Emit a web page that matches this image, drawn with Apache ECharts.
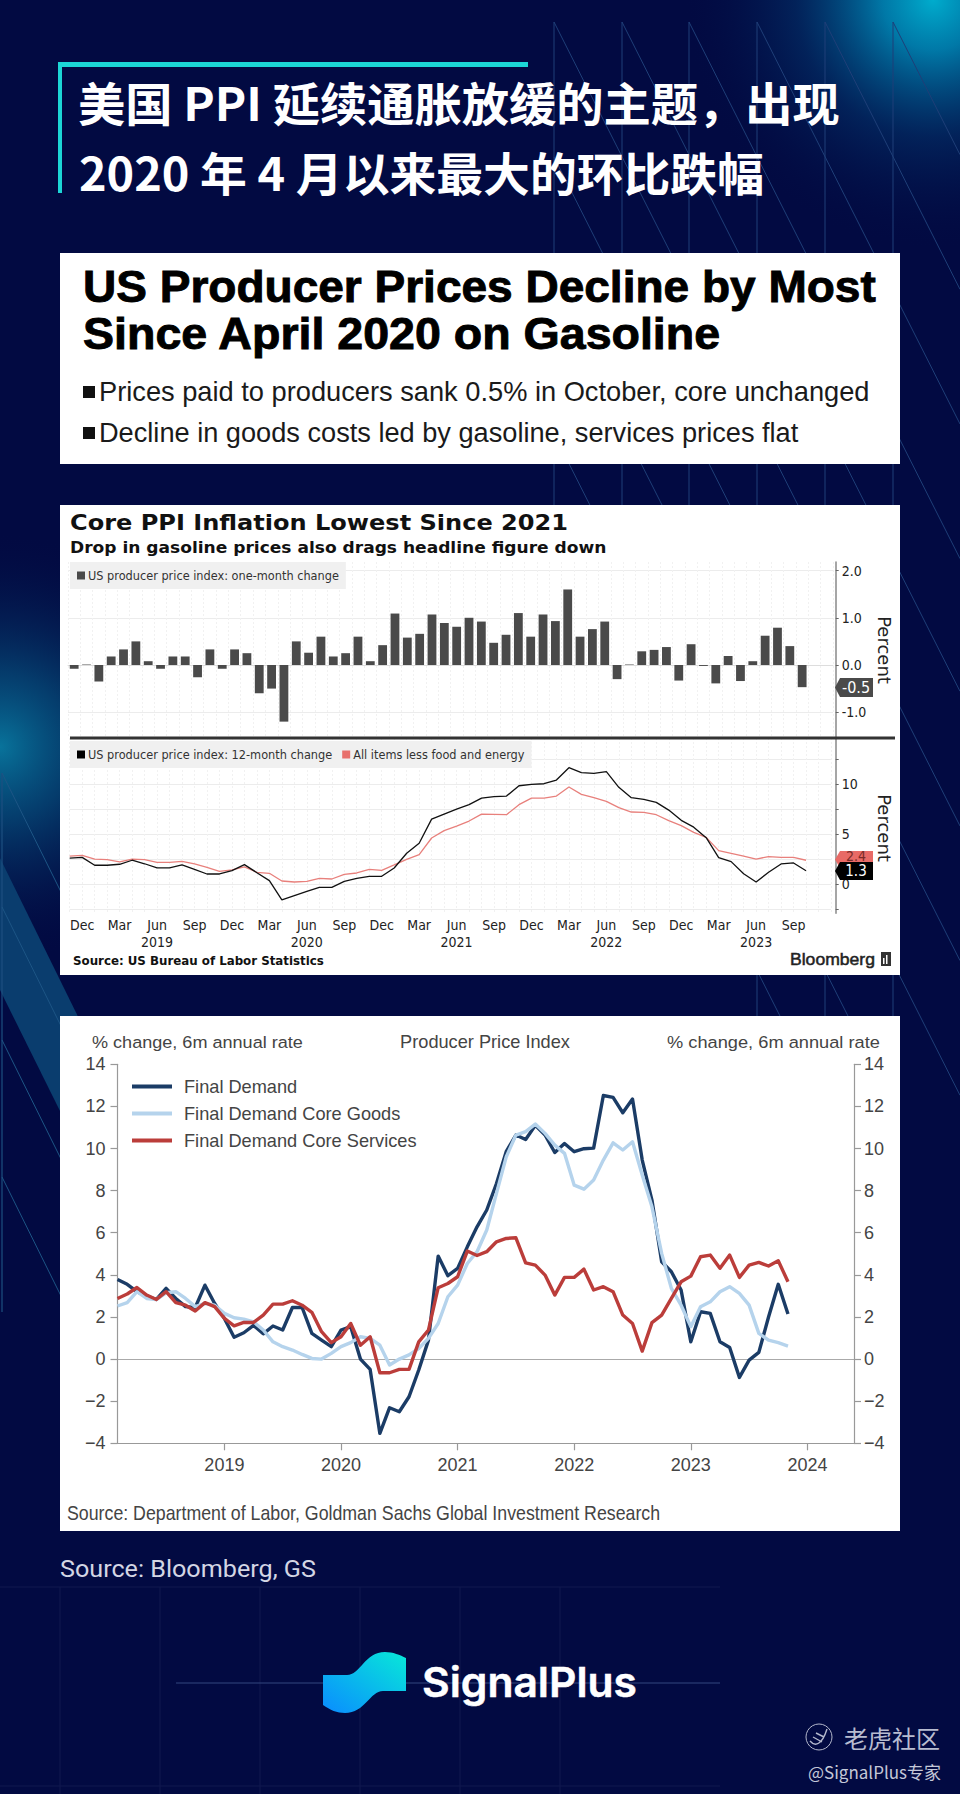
<!DOCTYPE html>
<html>
<head>
<meta charset="utf-8">
<style>html,body{margin:0;padding:0;background:#020a42}#c{width:960px;height:1794px}</style>
<script src="https://cdn.jsdelivr.net/npm/echarts@6/dist/echarts.min.js"></script>
</head>
<body>
<div id="c"></div>
<script>
// ---------- data ----------
var MONTHS = ['Jan','Feb','Mar','Apr','May','Jun','Jul','Aug','Sep','Oct','Nov','Dec'];
function monthRange(y, m, count) {
  var out = [];
  for (var i = 0; i < count; i++) { out.push(MONTHS[m] + ' ' + y); m++; if (m === 12) { m = 0; y++; } }
  return out;
}
var blbMonths = monthRange(2018, 10, 60).concat(['', '']);        // Nov 2018 .. Oct 2023, then empty room up to the axis
var gsMonths = monthRange(2018, 1, 77);                           // Feb 2018 .. Jun 2024

var oneMonthChange = [-0.08,0.01,-0.35,0.18,0.33,0.5,0.08,-0.08,0.18,0.18,-0.26,0.33,-0.08,0.33,0.25,-0.6,-0.5,-1.2,0.5,0.26,0.6,0.18,0.25,0.6,0.08,0.42,1.09,0.58,0.66,1.07,0.89,0.81,1.0,0.92,0.47,0.64,1.1,0.6,1.07,0.93,1.6,0.6,0.76,0.92,-0.3,0.01,0.29,0.32,0.38,-0.33,0.44,-0.02,-0.39,0.19,-0.34,0.08,0.62,0.79,0.4,-0.47];
var twelveMonthChange = [2.62,2.69,1.9,1.9,2.0,2.4,2.05,1.63,1.63,1.93,1.5,1.03,1.03,1.36,1.96,1.16,0.37,-1.56,-1.13,-0.7,-0.3,-0.3,0.3,0.6,0.8,0.8,1.63,3.1,4.1,6.5,7.0,7.5,7.94,8.6,8.74,8.8,9.83,9.97,10.03,10.4,11.63,11.13,11.06,11.23,9.67,8.64,8.47,8.17,7.4,6.38,5.7,4.65,2.66,2.26,1.06,0.23,1.2,2.03,2.13,1.36];
var lessFoodEnergy = [2.82,2.89,2.52,2.46,2.23,2.52,2.46,2.19,2.19,2.29,2.03,1.7,1.3,1.43,1.73,1.2,1.1,0.33,0.23,0.3,0.6,0.53,1.0,1.13,1.5,1.4,1.93,2.49,2.96,4.62,5.35,5.81,6.31,7.0,6.98,6.94,7.94,8.6,8.6,8.8,9.7,8.97,8.64,8.27,7.64,7.21,7.18,6.94,6.35,5.85,5.18,4.68,3.36,3.09,2.82,2.52,2.76,2.69,2.69,2.4];

var finalDemand = [3.78,3.55,3.2,3.0,2.83,3.36,2.88,2.49,2.45,3.51,2.64,1.93,1.04,1.25,1.6,1.2,1.57,1.38,2.45,2.45,1.22,0.9,0.59,1.38,1.54,0,-0.49,-3.53,-2.31,-2.5,-1.79,-0.52,0.9,4.89,3.96,4.31,5.33,6.28,7.08,8.34,9.85,10.64,10.43,11.1,10.64,9.81,10.24,9.85,9.99,10.02,12.52,12.43,11.7,12.35,9.45,7.55,4.62,4.15,3.28,0.82,2.25,2.17,0.82,0.55,-0.87,-0.05,0.32,2.0,3.55,2.14];
var coreGoods = [2.52,2.68,3.2,2.88,2.83,3.15,3.2,2.88,2.49,2.64,2.56,2.17,1.96,1.9,1.77,1.38,0.82,0.59,0.43,0.22,0.03,0,0.27,0.59,0.78,1.06,0.98,0.66,-0.28,0,0.2,0.5,0.98,1.69,2.96,3.51,4.54,5.1,6.13,7.87,9.6,10.64,10.8,11.16,10.72,10.16,9.77,8.26,8.07,8.5,9.45,10.27,9.93,10.32,8.74,7.23,5.02,3.36,2.56,1.54,2.49,2.72,3.2,3.44,3.12,2.56,1.22,0.9,0.78,0.62];
var coreServices = [2.88,3.09,3.4,3.04,2.83,3.2,2.68,2.56,2.28,2.68,2.49,1.93,1.58,1.74,1.74,2.09,2.61,2.61,2.77,2.56,2.22,1.3,0.78,1.06,1.69,0.66,1.06,-0.65,-0.65,-0.49,-0.49,0.82,1.38,3.39,3.59,3.91,5.13,4.92,5.1,5.57,5.73,5.76,4.57,4.46,3.99,3.04,3.88,3.88,4.27,3.28,3.44,3.2,2.09,1.69,0.38,1.73,2.09,2.88,3.67,3.94,4.86,4.94,4.31,4.94,3.88,4.46,4.59,4.42,4.67,3.67];

var barTicks = [-1, 0, 1, 2];
var lineLabels = [0, 5, 10];
var lineTicks = [-2.5, 0, 2.5, 5, 7.5, 10, 12.5];

// ---------- helpers ----------
var SANS = '"Liberation Sans"', DJ = '"DejaVu Sans"', DJC = '"DejaVu Sans Condensed","DejaVu Sans"', CJK = '"Noto Sans CJK SC"';
var meas = document.createElement('canvas').getContext('2d');
// text from left edge x0 to right edge x1, vertically centred on y
function span(str, x0, x1, y, font, fill, z, bolder) {
  meas.font = font;
  var w = meas.measureText(str).width;
  var st = { text:str, x:0, y:0, font:font, fill:fill, textAlign:'left', textVerticalAlign:'middle' };
  if (bolder) { st.stroke = fill; st.lineWidth = bolder; }
  return { type:'text', x:x0, y:y, scaleX:(x1 - x0) / w, z:z || 1, style:st };
}
function centred(str, x, y, font, fill, z, rot) {
  return { type:'text', x:x, y:y, rotation:rot || 0, z:z || 1,
    style:{ text:str, x:0, y:0, font:font, fill:fill, textAlign:'center', textVerticalAlign:'middle' } };
}
function rect(x, y, w, h, fill, z) { return { type:'rect', shape:{x:x,y:y,width:w,height:h}, style:{fill:fill}, z:z || 0 }; }
function seg(x1, y1, x2, y2, color, w, z) { return { type:'line', shape:{x1:x1,y1:y1,x2:x2,y2:y2}, style:{stroke:color,lineWidth:w||1}, z:z||0, silent:true }; }
function glow(cx, cy, r, stops) {
  return { type:'circle', shape:{cx:cx,cy:cy,r:r}, z:0, style:{ fill:{ type:'radial', x:0.5, y:0.5, r:0.5,
    colorStops: stops.map(function (s) { return { offset:s[0], color:s[1] }; }) } } };
}
function tag(x, y0, y1, fill, z) {
  var m = (y0 + y1) / 2;
  return { type:'polygon', z:z, shape:{ points:[[x+4,y0],[x+37,y0],[x+37,y1],[x+4,y1],[x-1,m]] }, style:{ fill:fill } };
}
echarts.graphic.registerShape('spLogo', echarts.graphic.extendPath('M323 1675 L347 1675 C360 1675 365 1652 385 1652 C393 1652 400 1655 406 1658 L406 1691 L383 1691 C370 1691 365 1713 345 1713 C337 1713 330 1710 323 1705 Z', {}));
echarts.graphic.registerShape('tigerMark', echarts.graphic.extendPath('M810 1741 C815 1747 822 1745 827 1729 M813 1737 L822 1742 M816 1733 L824 1737', {}));

// ---------- decoration ----------
var g = [];
g.push(glow(933, 0, 250, [[0,'rgba(0,172,205,1)'],[0.2,'rgba(0,140,185,0.85)'],[0.55,'rgba(3,70,125,0.4)'],[1,'rgba(2,10,66,0)']]));
g.push(glow(0, 747, 215, [[0,'rgba(8,115,155,1)'],[0.35,'rgba(6,80,125,0.7)'],[1,'rgba(2,10,66,0)']]));
var LINE = '#1f3f78';
[554,622,689,757,825,893].forEach(function (x) { g.push(seg(x, 22, x, x >= 757 ? 1018 : 520, LINE, 1)); });
[893,825,757,689,622,554].forEach(function (x) { g.push(seg(x, 22, 960, 22 + (960 - x) / 0.505, LINE, 1)); });
[[486,157],[418,291],[346,434],[278,568]].forEach(function (p) {
  var yEnd = p[0] === 346 || p[0] === 278 ? 1020 : 22 + (960 - p[0]) / 0.505;
  g.push(seg(554, p[1], p[0] + 0.505 * (yEnd - 22), yEnd, LINE, 1));
});
g.push({ type:'polygon', z:0, shape:{points:[[0,858],[120,1102],[120,1232],[0,990]]}, style:{fill:'#0a3d6e'} });
g.push(seg(2, 773, 2, 1312, '#1d4f80', 1.2));
[773,907,1040,1177].forEach(function (y) { g.push(seg(2, y, 62, y + 121, '#1d5585', 1)); });
[160,260,360,460,560,60].forEach(function (x) { g.push(seg(x, 1587, x, 1794, '#11194e', 1)); });
g.push(seg(0, 1587, 720, 1587, '#11194e', 1));
g.push(seg(0, 1786, 720, 1786, '#11194e', 1));
g.push(seg(176, 1683, 720, 1683, '#33467f', 1));

// title
g.push(rect(58, 62, 470, 5, '#1cd6d6', 1), rect(58, 62, 4, 131, '#1cd6d6', 1));
g.push(span('美国 PPI 延续通胀放缓的主题，出现', 78, 840, 101, 'bold 46px ' + CJK, '#ffffff', 2));
g.push(span('2020 年 4 月以来最大的环比跌幅', 79, 764, 171, 'bold 46px ' + CJK, '#ffffff', 2));

// panels
g.push(rect(60, 253, 840, 211, '#ffffff', 1), rect(60, 505, 840, 470, '#ffffff', 1), rect(60, 1016, 840, 515, '#ffffff', 1));

// headline panel
g.push(span('US Producer Prices Decline by Most', 83, 876, 287, 'bold 44px ' + SANS, '#000000', 2, 0.9));
g.push(span('Since April 2020 on Gasoline', 83, 722, 334, 'bold 44px ' + SANS, '#000000', 2, 0.9));
g.push(rect(83, 386, 12, 12, '#111111', 2), rect(83, 427, 12, 12, '#111111', 2));
g.push(span('Prices paid to producers sank 0.5% in October, core unchanged', 99, 870, 392, '27px ' + SANS, '#1a1a1a', 2));
g.push(span('Decline in goods costs led by gasoline, services prices flat', 99, 799, 433, '27px ' + SANS, '#1a1a1a', 2));

// Bloomberg panel
g.push(span('Core PPI Inflation Lowest Since 2021', 70, 568, 523, 'bold 21px ' + DJ, '#111111', 2));
g.push(span('Drop in gasoline prices also drags headline figure down', 70, 607, 548, 'bold 15px ' + DJ, '#111111', 2));
g.push(centred('Percent', 884, 650, '18px ' + DJ, '#222222', 6, -Math.PI/2));
g.push(centred('Percent', 884, 828, '18px ' + DJ, '#222222', 6, -Math.PI/2));
g.push(rect(70, 736.5, 825, 3, '#333333', 5));
g.push(tag(836, 678, 697, '#4a4a4a', 7), centred('-0.5', 856, 687.5, '16px ' + DJC, '#ffffff', 8));
g.push(tag(836, 851, 868, '#e86a66', 7), centred('2.4', 856, 856, '14px ' + DJC, '#7a2a28', 8));
g.push(tag(836, 862, 880, '#000000', 9), centred('1.3', 856, 870.5, '15px ' + DJC, '#ffffff', 10));
g.push(span('Source: US Bureau of Labor Statistics', 73, 324, 961, 'bold 11.5px ' + DJ, '#111111', 2));
g.push(span('Bloomberg', 790, 875, 959, '17px ' + SANS, '#222222', 2, 0.5));
g.push(rect(881, 952, 10, 14, '#333333', 2), rect(883, 958, 1.5, 6, '#ffffff', 3), rect(886, 955, 1.5, 9, '#ffffff', 3));

// GS panel
g.push(span('% change, 6m annual rate', 92, 303, 1042, '17px ' + SANS, '#444444', 2));
g.push(centred('Producer Price Index', 485, 1042, '18.2px ' + SANS, '#444444', 2));
g.push(span('% change, 6m annual rate', 667, 880, 1042, '17px ' + SANS, '#444444', 2));
g.push(span('Source: Department of Labor, Goldman Sachs Global Investment Research', 67, 660, 1513, '20px "Liberation Sans Narrow","Liberation Sans"', '#444444', 2));

// footer
g.push(span('Source: Bloomberg, GS', 60, 316, 1569, '24px Roboto', '#d3d6e4', 2));
g.push({ type:'spLogo', z:2, shape:{},
  style:{ fill:{ type:'linear', x:0, y:1, x2:1, y2:0, colorStops:[{offset:0,color:'#0a8cff'},{offset:1,color:'#08e8d8'}] } } });
g.push(span('SignalPlus', 422, 637, 1682, '600 41px Inter', '#ffffff', 3, 0.5));
g.push({ type:'circle', z:2, shape:{cx:819,cy:1737,r:13}, style:{fill:'none',stroke:'#b4b8cc',lineWidth:1} });
g.push({ type:'tigerMark', z:2, shape:{}, style:{fill:'none',stroke:'#b4b8cc',lineWidth:1.4} });
g.push(span('老虎社区', 844, 940, 1737, '24px ' + CJK, '#b8bcd0', 3));
g.push(span('@SignalPlus专家', 808, 941, 1771, '17px ' + CJK, '#c4c8d8', 3));

// ---------- chart ----------
var blbAxisLabel = { color:'#222', fontFamily:DJC, fontSize:14 };
var gsAxisLabel = { color:'#444', fontFamily:SANS, fontSize:18 };
var faintV = { color:'#f1f1f1', width:1, type:[2,2] };
var option = {
  backgroundColor:'#020a42',
  animation:false,
  graphic:{ elements:g },
  legend:[
    { left:70, top:562, orient:'horizontal', data:[{name:'US producer price index: one-month change', icon:'rect'}], itemWidth:8, itemHeight:8, itemGap:5,
      backgroundColor:'#f0f0f0', padding:[7,7,7,7], textStyle:{fontFamily:DJC, fontSize:12.6, color:'#333', padding:[0,0,0,-2]}, selectedMode:false, z:6 },
    { left:70, top:741, orient:'horizontal', data:[{name:'US producer price index: 12-month change', icon:'rect'},{name:'All items less food and energy', icon:'rect'}], itemWidth:8, itemHeight:8, itemGap:10,
      backgroundColor:'#f0f0f0', padding:[7,7,7,7], textStyle:{fontFamily:DJC, fontSize:12.6, color:'#333', padding:[0,0,0,-2]}, selectedMode:false, z:6 },
    { left:127, top:1071.5, orient:'vertical', data:[{name:'Final Demand', icon:'rect'},{name:'Final Demand Core Goods', icon:'rect'},{name:'Final Demand Core Services', icon:'rect'}], itemWidth:40, itemHeight:4, itemGap:7,
      textStyle:{fontFamily:SANS, fontSize:18.2, color:'#444', padding:[0,0,0,7], lineHeight:20}, selectedMode:false, z:6 }
  ],
  grid:[
    { left:68, top:562, width:765, height:176 },
    { left:69.7, top:738, width:761.3, height:175.3 },
    { left:117.5, top:1064.3, width:738.5, height:379 }
  ],
  xAxis:[
    { gridIndex:0, type:'category', data:blbMonths, z:3,
      axisLabel:{show:false}, axisTick:{show:false},
      axisLine:{lineStyle:{color:'#dddddd', width:1}},
      splitLine:{show:true, interval:0, lineStyle:faintV} },
    { gridIndex:1, type:'category', data:blbMonths, boundaryGap:false, z:3,
      axisLine:{onZero:false, lineStyle:{color:'#999', width:0}},
      axisTick:{show:false},
      splitLine:{show:true, interval:0, lineStyle:faintV},
      axisLabel:{ color:'#222', fontFamily:DJC, fontSize:14, margin:3, lineHeight:17,
        interval:function (i) { return (i - 1) % 3 === 0 && i < 60; },
        formatter:function (v) { var p = v.split(' '); return p[0] === 'Jun' ? p[0] + '\n' + p[1] : p[0]; } } },
    { gridIndex:2, type:'category', data:gsMonths, boundaryGap:false, z:3,
      axisLine:{onZero:false, lineStyle:{color:'#999', width:1.2}},
      axisTick:{length:7, lineStyle:{color:'#999', width:1.2}, interval:function (i, v) { return v.indexOf('Jan') === 0; }},
      axisLabel:Object.assign({ margin:13,
        interval:function (i, v) { return v.indexOf('Jan') === 0; },
        formatter:function (v) { return v.split(' ')[1]; } }, gsAxisLabel) }
  ],
  yAxis:[
    { gridIndex:0, type:'value', position:'right', offset:2.7, min:-1.547, max:2.182, z:3,
      axisLine:{show:true, lineStyle:{color:'#888', width:1.5}},
      axisTick:{show:true, length:3, lineStyle:{color:'#666'}, customValues:barTicks},
      axisLabel:Object.assign({ margin:6, customValues:barTicks, formatter:function (v) { return v.toFixed(1); } }, blbAxisLabel),
      splitLine:{show:true, customValues:barTicks, lineStyle:{color:'#ececec', width:1}} },
    { gridIndex:1, type:'value', position:'right', offset:4.7, min:-2.89, max:14.59, z:3,
      axisLine:{show:true, lineStyle:{color:'#888', width:1.5}},
      axisTick:{show:true, length:3, lineStyle:{color:'#666'}, customValues:lineTicks},
      axisLabel:Object.assign({ margin:6, customValues:lineLabels, formatter:function (v) { return String(v); } }, blbAxisLabel),
      splitLine:{show:true, customValues:lineLabels, lineStyle:{color:'#ececec', width:1}} },
    { gridIndex:2, type:'value', position:'left', min:-4, max:14, interval:2, z:3,
      axisLine:{show:true, lineStyle:{color:'#999', width:1.2}},
      axisTick:{show:true, length:7, lineStyle:{color:'#999', width:1.2}},
      axisLabel:Object.assign({ margin:12, formatter:function (v) { return String(v).replace('-', '\u2212'); }}, gsAxisLabel),
      splitLine:{show:false} },
    { gridIndex:2, type:'value', position:'right', offset:-2, min:-4, max:14, interval:2, z:3,
      axisLine:{show:true, lineStyle:{color:'#999', width:1.2}},
      axisTick:{show:true, length:7, lineStyle:{color:'#999', width:1.2}},
      axisLabel:Object.assign({ margin:10, formatter:function (v) { return String(v).replace('-', '\u2212'); }}, gsAxisLabel),
      splitLine:{show:false} }
  ],
  series:[
    { name:'US producer price index: one-month change', type:'bar', xAxisIndex:0, yAxisIndex:0, data:oneMonthChange, barWidth:8.8, itemStyle:{color:'#4a4a4a'}, z:4 },
    { name:'US producer price index: 12-month change', type:'line', xAxisIndex:1, yAxisIndex:1, data:twelveMonthChange, symbol:'none', lineStyle:{color:'#111111', width:1.3}, itemStyle:{color:'#000000'}, z:5 },
    { name:'All items less food and energy', type:'line', xAxisIndex:1, yAxisIndex:1, data:lessFoodEnergy, symbol:'none', lineStyle:{color:'#e8807c', width:1.3}, itemStyle:{color:'#e8706c'}, z:4 },
    { name:'Final Demand', type:'line', xAxisIndex:2, yAxisIndex:2, data:finalDemand, symbol:'none', lineStyle:{color:'#1b3c66', width:3.4, join:'round'}, itemStyle:{color:'#1b3c66'}, z:4,
      markLine:{ silent:true, symbol:'none', label:{show:false}, lineStyle:{color:'#aaaaaa', width:1.2, type:'solid'}, data:[{yAxis:0}], z:3 } },
    { name:'Final Demand Core Goods', type:'line', xAxisIndex:2, yAxisIndex:2, data:coreGoods, symbol:'none', lineStyle:{color:'#b5d3ec', width:3.4, join:'round'}, itemStyle:{color:'#b5d3ec'}, z:5 },
    { name:'Final Demand Core Services', type:'line', xAxisIndex:2, yAxisIndex:2, data:coreServices, symbol:'none', lineStyle:{color:'#bb3d3a', width:3.4, join:'round'}, itemStyle:{color:'#bb3d3a'}, z:6 }
  ]
};
var chart = echarts.init(document.getElementById('c'), null, { renderer:'svg', width:960, height:1794 });
chart.setOption(option);
</script>
</body>
</html>
